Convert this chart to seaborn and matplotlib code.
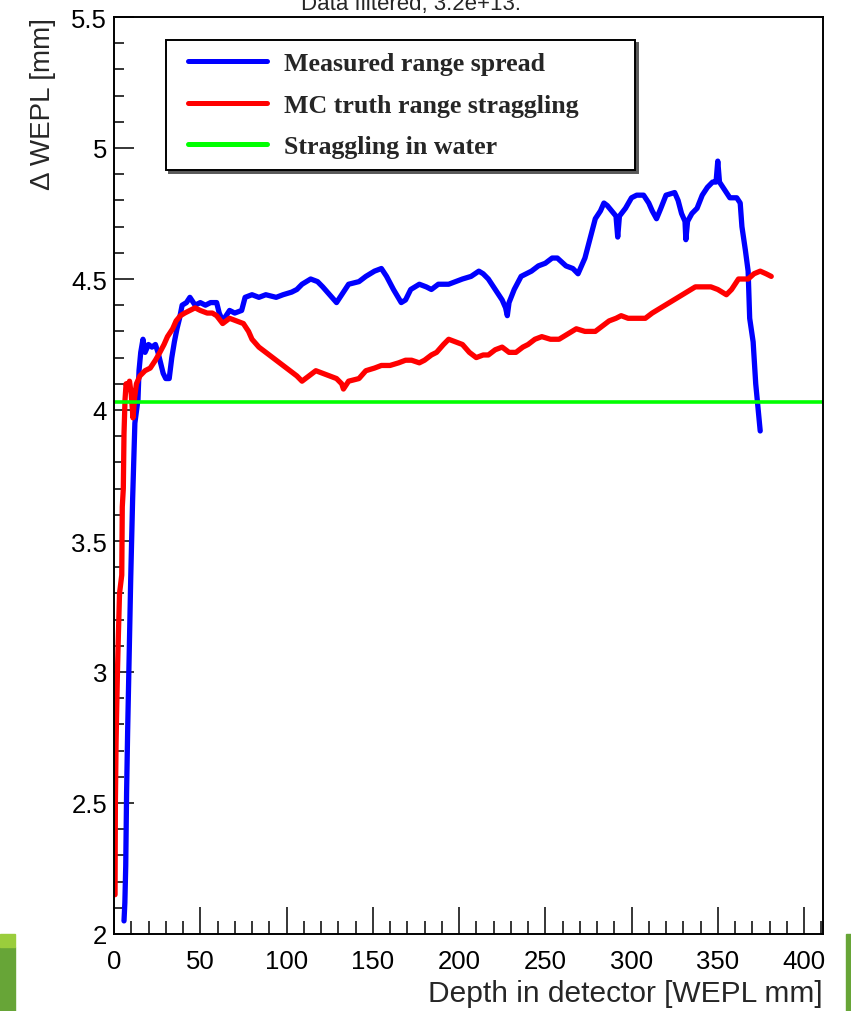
import matplotlib
matplotlib.use("Agg")
import matplotlib.pyplot as plt
from matplotlib.ticker import MultipleLocator
from matplotlib.patches import Rectangle
from matplotlib.lines import Line2D
from matplotlib.legend_handler import HandlerLine2D
import pandas as pd
import seaborn as sns

# Measured range spread vs. depth
measured_depth = [
    5.8, 6.3, 6.8, 7.3, 7.9, 8.8, 9.7, 10.8, 12.1, 13.9, 14.5, 15.5, 16.8, 18, 20,
    22, 24, 25.5, 27, 28.5, 30, 32, 33.5, 35, 36.5, 38, 39.5, 42, 44, 47, 50, 53,
    56, 59.5, 61, 63, 65, 67, 70, 74, 76, 80, 84, 88, 94, 98, 103, 106, 109, 114,
    118, 121, 125, 129, 132, 136, 142, 146, 151, 155, 158, 162, 166.5, 169, 172,
    177, 181, 184, 188, 194, 198, 202, 207, 211.5, 214, 217, 221, 225, 227, 228,
    229, 232, 236, 242, 246, 250, 254, 257, 262, 266, 269, 271, 273, 275, 277,
    279, 282, 284, 286, 288.5, 291, 292, 293, 296.5, 300, 303, 307, 310, 312,
    314.5, 317, 320, 325, 327, 329, 331, 331.5, 332.5, 335, 338, 341, 344, 347,
    349, 350, 351, 354, 357, 361, 363, 364, 366, 367.6, 368, 368.5, 370.5, 372,
    373, 374.6,
]
measured_spread = [
    2.05, 2.12, 2.26, 2.54, 2.77, 3.06, 3.36, 3.66, 3.95, 4.04, 4.15, 4.22, 4.27,
    4.22, 4.25, 4.24, 4.25, 4.22, 4.18, 4.14, 4.12, 4.12, 4.20, 4.26, 4.31, 4.35,
    4.40, 4.41, 4.43, 4.40, 4.41, 4.40, 4.41, 4.41, 4.37, 4.34, 4.36, 4.38, 4.37,
    4.38, 4.43, 4.44, 4.43, 4.44, 4.43, 4.44, 4.45, 4.46, 4.48, 4.50, 4.49, 4.47,
    4.44, 4.41, 4.44, 4.48, 4.49, 4.51, 4.53, 4.54, 4.51, 4.46, 4.41, 4.42, 4.46,
    4.48, 4.47, 4.46, 4.48, 4.48, 4.49, 4.50, 4.51, 4.53, 4.52, 4.50, 4.46, 4.42,
    4.39, 4.36, 4.41, 4.46, 4.51, 4.53, 4.55, 4.56, 4.58, 4.58, 4.55, 4.54, 4.52,
    4.55, 4.58, 4.63, 4.68, 4.73, 4.76, 4.79, 4.78, 4.76, 4.74, 4.66, 4.74, 4.77,
    4.81, 4.82, 4.82, 4.79, 4.76, 4.73, 4.77, 4.82, 4.83, 4.80, 4.75, 4.72, 4.65,
    4.72, 4.75, 4.77, 4.82, 4.85, 4.87, 4.87, 4.95, 4.87, 4.84, 4.81, 4.81, 4.79,
    4.70, 4.61, 4.53, 4.45, 4.35, 4.26, 4.10, 4.03, 3.92,
]

# Monte Carlo truth range straggling vs. depth
mc_depth = [
    0.6, 0.8, 1.2, 1.6, 2.0, 2.5, 3.2, 4.5, 4.8, 5.4, 5.8, 6.4, 7, 8, 9, 10, 11,
    12, 13, 15, 18, 21, 24, 26.6, 29, 31, 34, 36, 38.5, 41, 44, 47, 50, 54, 57,
    59.5, 63, 67, 71, 75, 78, 80, 84, 88, 92, 96, 100, 104, 106, 109, 113, 117,
    121, 125, 129, 132, 133, 136, 142, 146, 151, 155, 160, 165, 169, 172.5, 177,
    180, 184, 187, 191, 194, 198, 202, 206, 210, 214, 217, 221, 225, 229, 233,
    237, 240, 244, 248, 253, 258, 263, 268, 273, 279, 283, 287, 291, 294, 298,
    302, 308, 312, 317, 322, 327, 332, 337, 341, 346, 350, 355, 358, 362, 367.6,
    371, 374.6, 378, 381,
]
mc_straggling = [
    2.15, 2.50, 2.73, 2.87, 3.00, 3.13, 3.30, 3.37, 3.63, 3.70, 3.91, 4.04, 4.10,
    4.08, 4.11, 4.06, 3.97, 4.05, 4.10, 4.13, 4.15, 4.16, 4.19, 4.22, 4.25, 4.28,
    4.31, 4.34, 4.36, 4.37, 4.38, 4.39, 4.38, 4.37, 4.37, 4.36, 4.33, 4.35, 4.34,
    4.33, 4.30, 4.27, 4.24, 4.22, 4.20, 4.18, 4.16, 4.14, 4.13, 4.11, 4.13, 4.15,
    4.14, 4.13, 4.12, 4.10, 4.08, 4.11, 4.12, 4.15, 4.16, 4.17, 4.17, 4.18, 4.19,
    4.19, 4.18, 4.19, 4.21, 4.22, 4.25, 4.27, 4.26, 4.25, 4.22, 4.20, 4.21, 4.21,
    4.23, 4.24, 4.22, 4.22, 4.24, 4.25, 4.27, 4.28, 4.27, 4.27, 4.29, 4.31, 4.30,
    4.30, 4.32, 4.34, 4.35, 4.36, 4.35, 4.35, 4.35, 4.37, 4.39, 4.41, 4.43, 4.45,
    4.47, 4.47, 4.47, 4.46, 4.44, 4.46, 4.50, 4.50, 4.52, 4.53, 4.52, 4.51,
]

# Range straggling in water (constant reference level)
water_straggling = 4.03

series_labels = ["Measured range spread", "MC truth range straggling", "Straggling in water"]
series_colors = ["#0000ff", "#ff0000", "#00ff00"]

x_ticks = [0, 50, 100, 150, 200, 250, 300, 350, 400]
y_ticks = [2, 2.5, 3, 3.5, 4, 4.5, 5, 5.5]
y_tick_labels = ["2", "2.5", "3", "3.5", "4", "4.5", "5", "5.5"]

title_text = "Data filtered, 3.2e+13."
x_label = "Depth in detector [WEPL mm]"
y_label = "\u0394 WEPL [mm]"

sns.set_style("ticks")
plt.rcParams["font.family"] = ["Liberation Sans", "DejaVu Sans"]

W, H = 851, 1012
fig = plt.figure(figsize=(W / 100, H / 100), dpi=100)
ax = fig.add_axes([114 / W, 1 - 935 / H, 709 / W, 917 / H])

measured = pd.DataFrame({"depth": measured_depth, "spread": measured_spread})
mc = pd.DataFrame({"depth": mc_depth, "spread": mc_straggling})

sns.lineplot(data=measured, x="depth", y="spread", sort=False, estimator=None,
             color=series_colors[0], lw=3.8, ax=ax, label=series_labels[0])
sns.lineplot(data=mc, x="depth", y="spread", sort=False, estimator=None,
             color=series_colors[1], lw=3.8, ax=ax, label=series_labels[1])
ax.axhline(water_straggling, color=series_colors[2], lw=2.6, label=series_labels[2])

ax.set_xlim(0, 411)
ax.set_ylim(2, 5.5)
ax.set_xticks(x_ticks)
ax.set_yticks(y_ticks, y_tick_labels)
ax.xaxis.set_minor_locator(MultipleLocator(10))
ax.yaxis.set_minor_locator(MultipleLocator(0.1))

ax.tick_params(axis="both", which="both", direction="in", top=False, right=False,
               color="black", width=1.1, labelsize=18.5, labelcolor="black")
ax.tick_params(axis="x", which="major", length=19.4, pad=11)
ax.tick_params(axis="x", which="minor", length=9.4)
ax.tick_params(axis="y", which="major", length=14.4, pad=5)
ax.tick_params(axis="y", which="minor", length=7.2)
for side in ["left", "right", "top", "bottom"]:
    ax.spines[side].set_visible(True)
    ax.spines[side].set_linewidth(1.4)
    ax.spines[side].set_color("black")

ax.set_xlabel(x_label, loc="right", fontsize=21.5, labelpad=4)
ax.set_ylabel(y_label, loc="top", fontsize=20, labelpad=11)

leg = ax.legend(loc="upper left", bbox_to_anchor=(0.0733, 0.975, 0.662, 0.0),
                mode="expand", borderaxespad=0, frameon=True, fancybox=False,
                shadow={"ox": 2, "oy": -2, "color": "0.35", "alpha": 1},
                handler_map={Line2D: HandlerLine2D(xpad=0.39)},
                handlelength=3.45, handletextpad=0.66, labelspacing=0.72,
                borderpad=0.46,
                prop={"family": "Liberation Serif", "weight": "bold", "size": 18.6})
leg.get_frame().set_edgecolor("black")
leg.get_frame().set_linewidth(1.4)
for line in leg.get_lines():
    line.set_linewidth(3.6)

fig.text(411 / W, 1 - 10 / H, title_text, ha="center", va="baseline", fontsize=16)

# slide decoration strips
dark_green, light_green = "#67a537", "#9acd3c"
fig.patches.append(Rectangle((0, 0), 15 / W, (H - 948) / H, transform=fig.transFigure,
                             color=dark_green, zorder=0))
fig.patches.append(Rectangle((0, (H - 948) / H), 15 / W, 13 / H, transform=fig.transFigure,
                             color=light_green, zorder=0))
fig.patches.append(Rectangle((846 / W, 0), 5 / W, (H - 935) / H, transform=fig.transFigure,
                             color=dark_green, zorder=0))

fig.savefig("out.png", dpi=100)
